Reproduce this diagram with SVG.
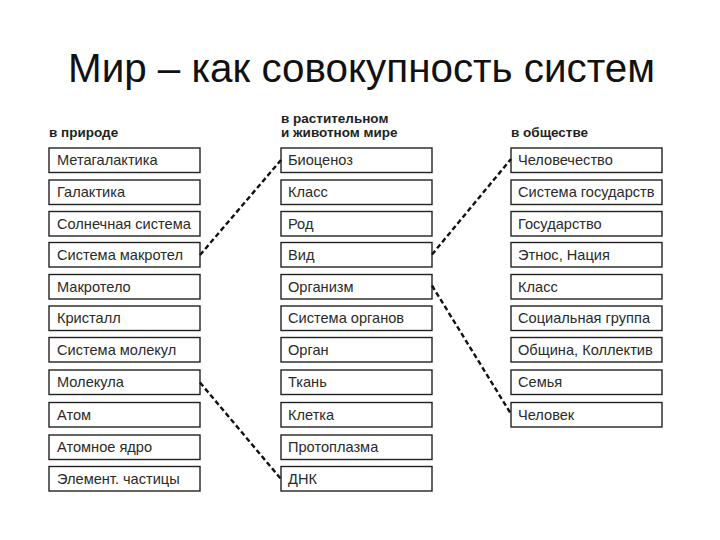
<svg xmlns="http://www.w3.org/2000/svg" width="720" height="540" viewBox="0 0 720 540">
<style>
.title{font-family:"Liberation Sans",Arial,sans-serif;font-size:40px;fill:#111}
.hdr{font-family:"Liberation Sans",Arial,sans-serif;font-size:13.5px;font-weight:bold;fill:#222}
.box{fill:#fff;stroke:#222;stroke-width:1.4}
.lbl{font-family:"Liberation Sans",Arial,sans-serif;font-size:14.6px;fill:#2a2a2a}
.conn{stroke:#111;stroke-width:2.4;stroke-dasharray:5 3;fill:none}
</style>
<rect width="720" height="540" fill="#fff"/>
<text class="title" x="68" y="82" textLength="587" lengthAdjust="spacingAndGlyphs">Мир – как совокупность систем</text>
<text class="hdr" x="49" y="137">в природе</text>
<text class="hdr" x="281" y="123">в растительном</text>
<text class="hdr" x="281" y="137">и животном мире</text>
<text class="hdr" x="511" y="137">в обществе</text>

<g id="left-column">
<g id="n-metagalaktika"><rect class="box" x="49" y="148" width="151" height="24.5"/><text class="lbl" x="57" y="165">Метагалактика</text></g>
<g id="n-galaktika"><rect class="box" x="49" y="180" width="151" height="24.5"/><text class="lbl" x="57" y="197">Галактика</text></g>
<g id="n-solnechnaya"><rect class="box" x="49" y="211.5" width="151" height="24.5"/><text class="lbl" x="57" y="228.5">Солнечная система</text></g>
<g id="n-makrotel"><rect class="box" x="49" y="242.5" width="151" height="24.5"/><text class="lbl" x="57" y="259.5">Система макротел</text></g>
<g id="n-makrotelo"><rect class="box" x="49" y="274.5" width="151" height="24.5"/><text class="lbl" x="57" y="291.5">Макротело</text></g>
<g id="n-kristall"><rect class="box" x="49" y="306" width="151" height="24.5"/><text class="lbl" x="57" y="323">Кристалл</text></g>
<g id="n-sist-molekul"><rect class="box" x="49" y="337.5" width="151" height="24.5"/><text class="lbl" x="57" y="354.5">Система молекул</text></g>
<g id="n-molekula"><rect class="box" x="49" y="370" width="151" height="24.5"/><text class="lbl" x="57" y="387">Молекула</text></g>
<g id="n-atom"><rect class="box" x="49" y="402.5" width="151" height="24.5"/><text class="lbl" x="57" y="419.5">Атом</text></g>
<g id="n-yadro"><rect class="box" x="49" y="435" width="151" height="24.5"/><text class="lbl" x="57" y="452">Атомное ядро</text></g>
<g id="n-chastitsy"><rect class="box" x="49" y="466.5" width="151" height="24.5"/><text class="lbl" x="57" y="483.5">Элемент. частицы</text></g>
</g>

<g id="middle-column">
<g id="n-biotsenoz"><rect class="box" x="281" y="148" width="151" height="24.5"/><text class="lbl" x="288" y="165">Биоценоз</text></g>
<g id="n-klass-bio"><rect class="box" x="281" y="180" width="151" height="24.5"/><text class="lbl" x="288" y="197">Класс</text></g>
<g id="n-rod"><rect class="box" x="281" y="211.5" width="151" height="24.5"/><text class="lbl" x="288" y="228.5">Род</text></g>
<g id="n-vid"><rect class="box" x="281" y="242.5" width="151" height="24.5"/><text class="lbl" x="288" y="259.5">Вид</text></g>
<g id="n-organizm"><rect class="box" x="281" y="274.5" width="151" height="24.5"/><text class="lbl" x="288" y="291.5">Организм</text></g>
<g id="n-sist-organov"><rect class="box" x="281" y="306" width="151" height="24.5"/><text class="lbl" x="288" y="323">Система органов</text></g>
<g id="n-organ"><rect class="box" x="281" y="337.5" width="151" height="24.5"/><text class="lbl" x="288" y="354.5">Орган</text></g>
<g id="n-tkan"><rect class="box" x="281" y="370" width="151" height="24.5"/><text class="lbl" x="288" y="387">Ткань</text></g>
<g id="n-kletka"><rect class="box" x="281" y="402.5" width="151" height="24.5"/><text class="lbl" x="288" y="419.5">Клетка</text></g>
<g id="n-protoplazma"><rect class="box" x="281" y="435" width="151" height="24.5"/><text class="lbl" x="288" y="452">Протоплазма</text></g>
<g id="n-dnk"><rect class="box" x="281" y="466.5" width="151" height="24.5"/><text class="lbl" x="288" y="483.5">ДНК</text></g>
</g>

<g id="right-column">
<g id="n-chelovechestvo"><rect class="box" x="511" y="148" width="151" height="24.5"/><text class="lbl" x="518" y="165">Человечество</text></g>
<g id="n-sist-gosudarstv"><rect class="box" x="511" y="180" width="151" height="24.5"/><text class="lbl" x="518" y="197">Система государств</text></g>
<g id="n-gosudarstvo"><rect class="box" x="511" y="211.5" width="151" height="24.5"/><text class="lbl" x="518" y="228.5">Государство</text></g>
<g id="n-etnos"><rect class="box" x="511" y="242.5" width="151" height="24.5"/><text class="lbl" x="518" y="259.5">Этнос, Нация</text></g>
<g id="n-klass-soc"><rect class="box" x="511" y="274.5" width="151" height="24.5"/><text class="lbl" x="518" y="291.5">Класс</text></g>
<g id="n-soc-gruppa"><rect class="box" x="511" y="306" width="151" height="24.5"/><text class="lbl" x="518" y="323">Социальная группа</text></g>
<g id="n-obshchina"><rect class="box" x="511" y="337.5" width="151" height="24.5"/><text class="lbl" x="518" y="354.5">Община, Коллектив</text></g>
<g id="n-semya"><rect class="box" x="511" y="370" width="151" height="24.5"/><text class="lbl" x="518" y="387">Семья</text></g>
<g id="n-chelovek"><rect class="box" x="511" y="402.5" width="151" height="24.5"/><text class="lbl" x="518" y="419.5">Человек</text></g>
</g>

<g id="connectors">
<line class="conn" x1="200" y1="255" x2="281" y2="160"/>
<line class="conn" x1="432" y1="254.5" x2="511" y2="159"/>
<line class="conn" x1="200" y1="382.5" x2="281" y2="479"/>
<line class="conn" x1="432" y1="285.5" x2="511" y2="414"/>
</g>
</svg>
